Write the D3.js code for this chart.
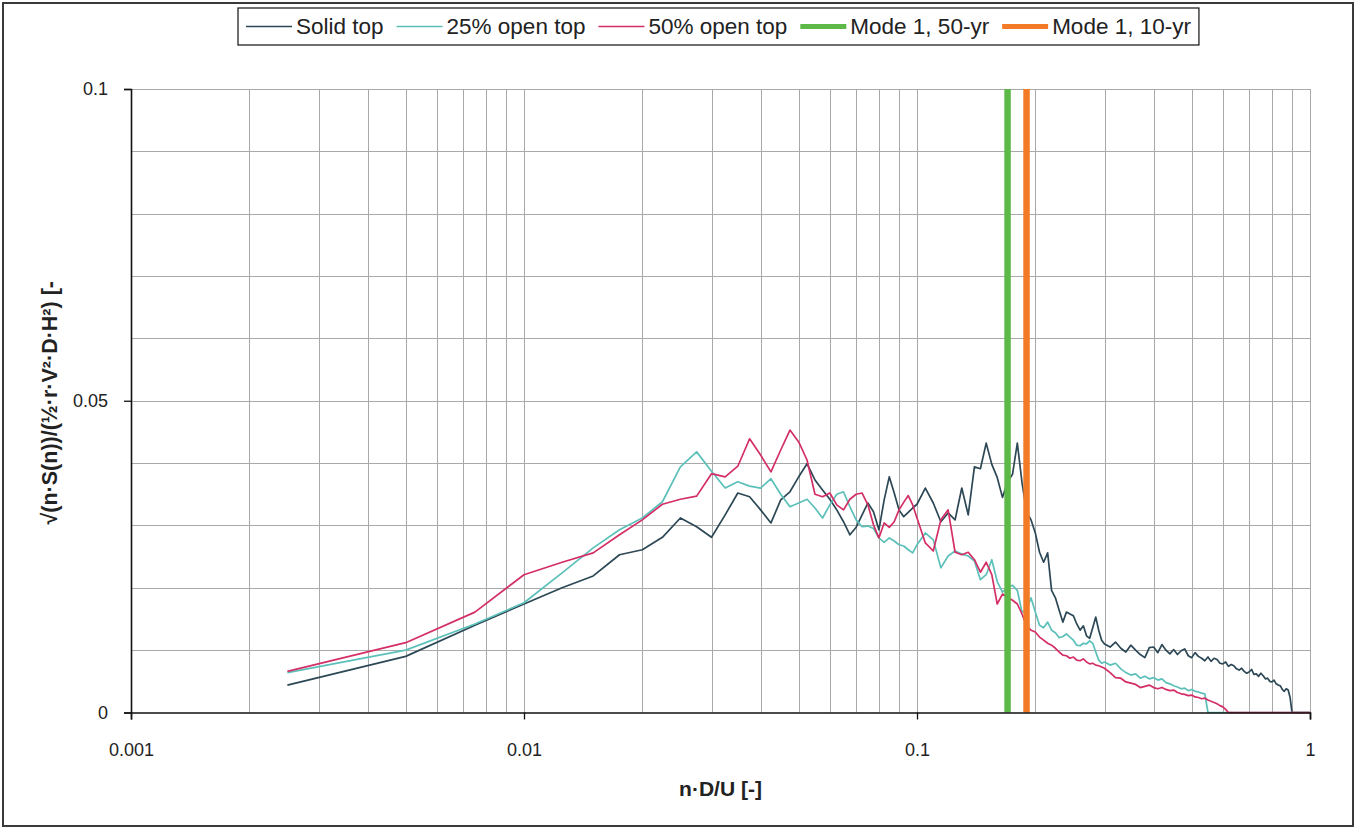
<!DOCTYPE html>
<html>
<head>
<meta charset="utf-8">
<script src="https://cdn.jsdelivr.net/npm/d3@7"></script>
<style>
  body { margin: 0; background: #fff; }
  svg text { font-family: "Liberation Sans", Arial, sans-serif; fill: #222; }
</style>
</head>
<body>
<svg id="chart" width="1356" height="829"></svg>
<script>
// Reduced frequency n·D/U
const freq = [
  0.0025,0.005,0.0075,0.01,0.0125,0.015,0.0175,0.02,0.0225,0.025,
  0.0275,0.03,0.0325,0.035,0.0375,0.04,0.0425,0.045,0.0475,0.05,
  0.0525,0.055,0.0575,0.06,0.0625,0.065,0.0675,0.07,0.0725,0.075,
  0.0775,0.08,0.0825,0.085,0.0875,0.09,0.0925,0.095,0.0975,0.1,
  0.105,0.11,0.115,0.12,0.125,0.13,0.135,0.14,0.145,0.15,
  0.155,0.16,0.165,0.17,0.175,0.18,0.185,0.19,0.195,0.2,
  0.205,0.21,0.215,0.22,0.225,0.23,0.235,0.24,0.245,0.25,
  0.255,0.26,0.265,0.27,0.275,0.28,0.285,0.29,0.295,0.3,
  0.31,0.32,0.33,0.34,0.35,0.36,0.37,0.38,0.39,0.40,
  0.41,0.42,0.43,0.44,0.45,0.46,0.47,0.48,0.49,0.50,
  0.51,0.52,0.53,0.54,0.55,0.56,0.57,0.58,0.59,0.60,
  0.61,0.62,0.63,0.64,0.65,0.66,0.67,0.68,0.69,0.70,
  0.71,0.72,0.73,0.74,0.75,0.76,0.77,0.78,0.79,0.80,
  0.81,0.82,0.83,0.84,0.85,0.86,0.87,0.88,0.89,0.90,
  0.91,0.92,0.93,0.94,0.95,0.96,0.97,0.98,0.99,1.00
];

// Normalised spectrum, solid top
const solidTop = [
  0.0044,0.0090,0.0140,0.0174,0.0200,0.0219,0.0253,0.0261,0.0281,0.0312,
  0.0298,0.0281,0.0317,0.0352,0.0346,0.0325,0.0304,0.0341,0.0354,0.0378,
  0.0399,0.0373,0.0357,0.0342,0.0325,0.0306,0.0285,0.0297,0.0317,0.0336,
  0.0322,0.0293,0.0341,0.0378,0.0352,0.0325,0.0314,0.0321,0.0328,0.0334,
  0.0360,0.0336,0.0306,0.0320,0.0309,0.0360,0.0317,0.0394,0.0391,0.0432,
  0.0398,0.0377,0.0345,0.0370,0.0382,0.0432,0.0369,0.0322,0.0309,0.0288,
  0.0257,0.0241,0.0256,0.0196,0.0184,0.0164,0.0145,0.0161,0.0158,0.0155,
  0.0142,0.0132,0.0139,0.0123,0.0119,0.0136,0.0153,0.0132,0.0116,0.0110,
  0.0105,0.0113,0.0103,0.0097,0.0108,0.0100,0.0093,0.0088,0.0104,0.0105,
  0.0096,0.0109,0.0100,0.0094,0.0101,0.0093,0.0099,0.0102,0.0091,0.0088,
  0.0096,0.0090,0.0087,0.0083,0.0089,0.0082,0.0087,0.0085,0.0079,0.0078,
  0.0081,0.0074,0.0077,0.0075,0.0070,0.0068,0.0071,0.0066,0.0063,0.0065,
  0.0069,0.0061,0.0062,0.0058,0.0063,0.0059,0.0054,0.0055,0.0050,0.0049,
  0.0052,0.0046,0.0044,0.0043,0.0037,0.0034,0.0038,0.0036,0.0024,0,
  0,0,0,0,0,0,0,0,0,0
];

// Normalised spectrum, 25% open top
const open25 = [
  0.0064,0.0100,0.0142,0.0176,0.0224,0.0264,0.0293,0.0312,0.0338,0.0394,
  0.0418,0.0387,0.0360,0.0370,0.0363,0.0360,0.0375,0.0350,0.0330,0.0336,
  0.0342,0.0328,0.0312,0.0333,0.0350,0.0354,0.0330,0.0309,0.0298,0.0299,
  0.0295,0.0280,0.0273,0.0280,0.0275,0.0269,0.0267,0.0261,0.0256,0.0269,
  0.0288,0.0277,0.0232,0.0251,0.0259,0.0254,0.0251,0.0243,0.0213,0.0221,
  0.0245,0.0210,0.0193,0.0200,0.0204,0.0196,0.0161,0.0164,0.0184,0.0161,
  0.0140,0.0136,0.0145,0.0132,0.0128,0.0120,0.0122,0.0126,0.0121,0.0116,
  0.0108,0.0107,0.0111,0.0110,0.0115,0.0111,0.0097,0.0084,0.0079,0.0081,
  0.0076,0.0079,0.0070,0.0064,0.0060,0.0062,0.0055,0.0058,0.0054,0.0056,
  0.0052,0.0054,0.0048,0.0046,0.0043,0.0041,0.0038,0.0039,0.0035,0.0037,
  0.0034,0.0033,0.0031,0.0030,0,0,0,0,0,0,
  0,0,0,0,0,0,0,0,0,0,
  0,0,0,0,0,0,0,0,0,0,
  0,0,0,0,0,0,0,0,0,0,
  0,0,0,0,0,0,0,0,0,0
];

// Normalised spectrum, 50% open top
const open50 = [
  0.0066,0.0112,0.0161,0.0221,0.0241,0.0256,0.0285,0.0309,0.0334,0.0342,
  0.0347,0.0383,0.0378,0.0395,0.0439,0.0413,0.0386,0.0421,0.0453,0.0434,
  0.0405,0.0350,0.0346,0.0352,0.0333,0.0325,0.0342,0.0350,0.0352,0.0333,
  0.0301,0.0280,0.0304,0.0297,0.0306,0.0325,0.0337,0.0348,0.0333,0.0312,
  0.0272,0.0259,0.0309,0.0325,0.0257,0.0253,0.0257,0.0245,0.0225,0.0241,
  0.0221,0.0174,0.0190,0.0185,0.0180,0.0174,0.0158,0.0139,0.0132,0.0129,
  0.0121,0.0116,0.0111,0.0108,0.0103,0.0097,0.0092,0.0091,0.0087,0.0089,
  0.0084,0.0083,0.0086,0.0081,0.0078,0.0079,0.0076,0.0075,0.0073,0.0071,
  0.0064,0.0056,0.0055,0.0049,0.0047,0.0045,0.0040,0.0042,0.0044,0.0040,
  0.0038,0.0040,0.0037,0.0035,0.0036,0.0032,0.0030,0.0029,0.0027,0.0028,
  0.0025,0.0024,0.0022,0.0023,0.0020,0.0018,0.0016,0.0014,0.0011,0.0009,
  0.0005,0,0,0,0,0,0,0,0,0,
  0,0,0,0,0,0,0,0,0,0,
  0,0,0,0,0,0,0,0,0,0,
  0,0,0,0,0,0,0,0,0,0
];

// First-mode natural frequencies (reduced)
const modeNames = ["Mode 1, 50-yr", "Mode 1, 10-yr"];
const modeFreq = [0.170, 0.190];

const xTickValues = [0.001, 0.01, 0.1, 1];
const xTickLabels = ["0.001", "0.01", "0.1", "1"];
const yTickValues = [0, 0.05, 0.1];
const yTickLabels = ["0", "0.05", "0.1"];

const seriesNames = ["Solid top", "25% open top", "50% open top"];
const seriesColors = ["#2c4755", "#5cc0ba", "#d42e66"];
const modeColors = ["#5cb947", "#f37b25"];

const svg = d3.select("#chart");
const W = 1356, H = 829;
const plot = { left: 131, right: 1310, top: 89, bottom: 712.5 };

const x = d3.scaleLog().domain([0.001, 1]).range([plot.left, plot.right]);
const y = d3.scaleLinear().domain([0, 0.1]).range([plot.bottom, plot.top]);

// Outer frame
svg.append("rect")
  .attr("x", 3).attr("y", 3).attr("width", W - 6).attr("height", H - 6)
  .attr("fill", "#fff").attr("stroke", "#3a3a3a").attr("stroke-width", 2);

// Grid
const grid = svg.append("g").attr("stroke", "#a9a9a9").attr("stroke-width", 1);
grid.selectAll("line.vx").data(x.ticks()).join("line")
  .attr("x1", d => Math.round(x(d)) + 0.5).attr("x2", d => Math.round(x(d)) + 0.5)
  .attr("y1", plot.top).attr("y2", plot.bottom);
grid.selectAll("line.hy").data(d3.range(1, 11).map(i => i / 100)).join("line")
  .attr("x1", plot.left).attr("x2", plot.right)
  .attr("y1", d => Math.round(y(d)) + 0.5).attr("y2", d => Math.round(y(d)) + 0.5);

// Spectra
const line = d3.line().x(d => x(d[0])).y(d => y(d[1]));
[solidTop, open25, open50].forEach((vals, i) => {
  const pts = freq.map((f, k) => [f, vals[k]]);
  svg.append("path")
    .attr("d", line(pts))
    .attr("fill", "none")
    .attr("stroke", seriesColors[i])
    .attr("stroke-width", 1.7)
    .attr("stroke-linejoin", "round");
});

// Mode frequency markers
modeFreq.forEach((f, i) => {
  svg.append("line")
    .attr("x1", x(f)).attr("x2", x(f))
    .attr("y1", y(0.1)).attr("y2", y(0))
    .attr("stroke", modeColors[i]).attr("stroke-width", 6.5);
});

// Axes
const xAxis = d3.axisBottom(x).tickValues(xTickValues)
  .tickFormat((d, i) => xTickLabels[i]).tickSize(7).tickPadding(24);
const gx = svg.append("g").attr("transform", `translate(0,${plot.bottom})`).call(xAxis);
const yAxis = d3.axisLeft(y).tickValues(yTickValues)
  .tickFormat((d, i) => yTickLabels[i]).tickSize(7).tickPadding(16);
const gy = svg.append("g").attr("transform", `translate(${plot.left},0)`).call(yAxis);
[gx, gy].forEach(g => {
  g.select(".domain").attr("stroke", "#111").attr("stroke-width", 1.6);
  g.selectAll(".tick line").attr("stroke", "#111").attr("stroke-width", 1.3);
  g.selectAll(".tick text").attr("font-size", 18).attr("fill", "#222")
    .attr("font-family", "Liberation Sans, Arial, sans-serif");
});

// Axis titles
svg.append("text")
  .attr("x", (plot.left + plot.right) / 2).attr("y", 796)
  .attr("text-anchor", "middle").attr("font-size", 21).attr("font-weight", "bold")
  .text("n·D/U [-]");
svg.append("text")
  .attr("transform", `translate(57,${(plot.top + plot.bottom) / 2 + 2}) rotate(-90)`)
  .attr("text-anchor", "middle").attr("font-size", 21.5).attr("font-weight", "bold")
  .text("√(n·S(n))/(½·r·V²·D·H²) [-");

// Legend
const legend = svg.append("g");
const legItems = seriesNames.map((n, i) => ({ name: n, color: seriesColors[i], w: 1.6 }))
  .concat(modeNames.map((n, i) => ({ name: n, color: modeColors[i], w: 5 })));
const lgBox = legend.append("rect")
  .attr("y", 8).attr("height", 37)
  .attr("fill", "#fff").attr("stroke", "#222").attr("stroke-width", 1.3);
let cx = 246;
legItems.forEach(it => {
  legend.append("line")
    .attr("x1", cx).attr("x2", cx + 46).attr("y1", 26.5).attr("y2", 26.5)
    .attr("stroke", it.color).attr("stroke-width", it.w);
  const t = legend.append("text")
    .attr("x", cx + 50).attr("y", 34).attr("font-size", 22.5).text(it.name);
  cx += 50 + t.node().getComputedTextLength() + 13;
});
lgBox.attr("x", 238).attr("width", cx - 238 - 5);
</script>
</body>
</html>
